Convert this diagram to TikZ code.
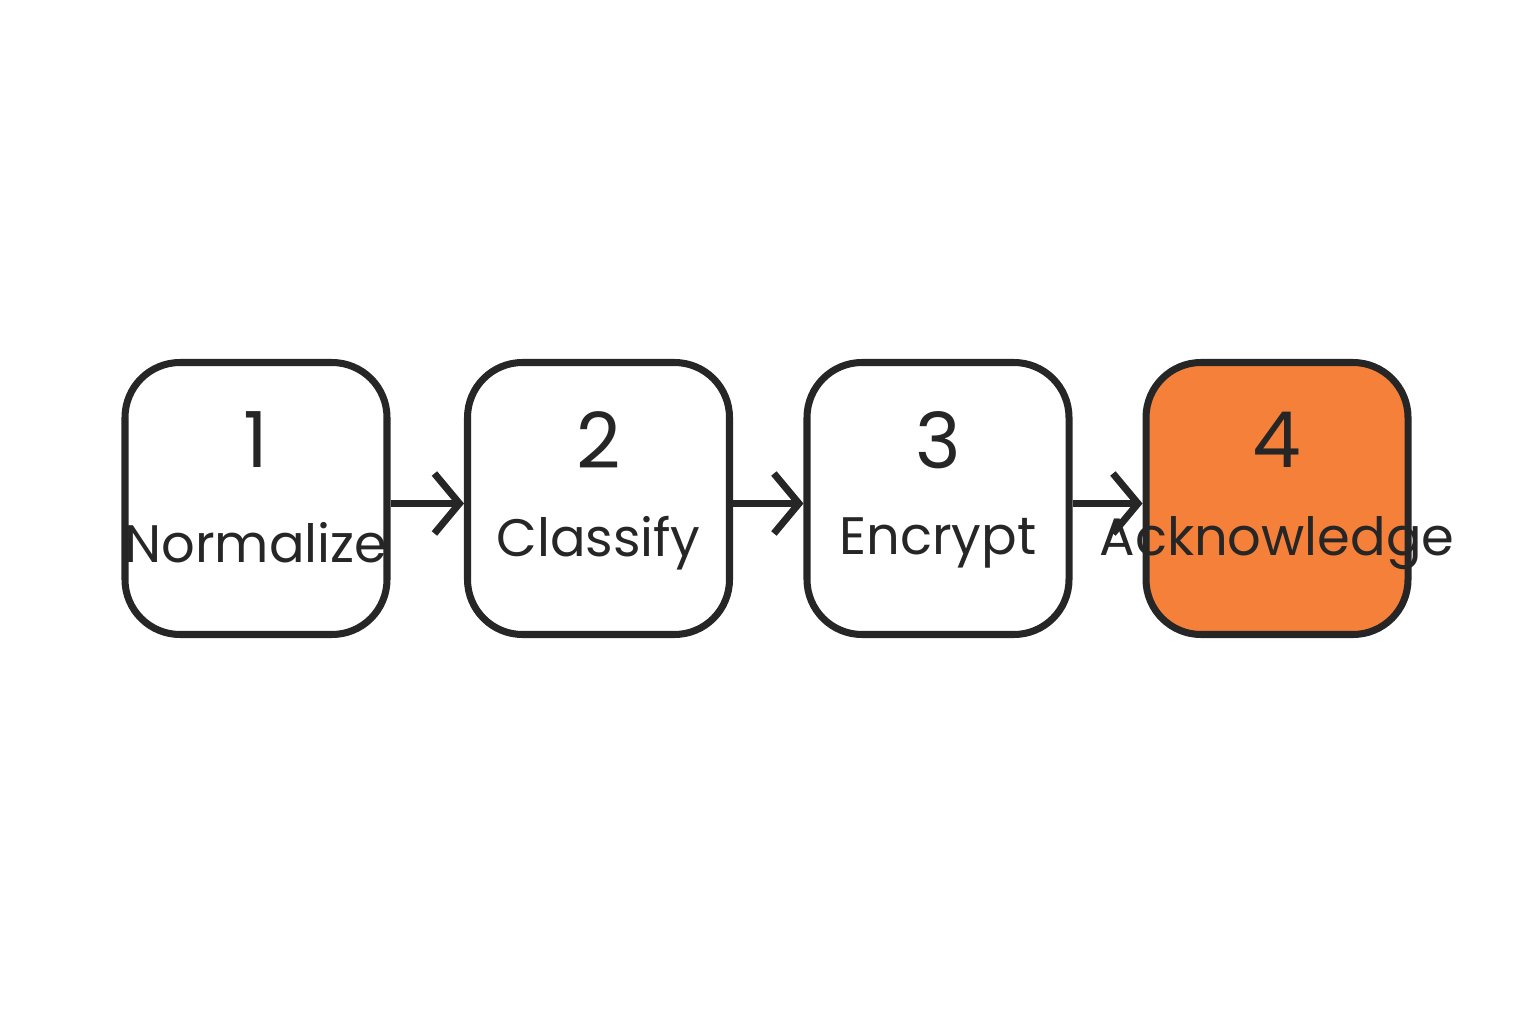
\documentclass[tikz,border=0pt]{standalone}
\usepackage{fontspec}
\setmainfont{Poppins}
\usetikzlibrary{arrows.meta}
\definecolor{ink}{HTML}{262626}
\definecolor{accent}{HTML}{F5803A}
\tikzset{
  stepbox/.style={draw=ink,line width=2pt,rounded corners=0.55cm,minimum width=2.62cm,minimum height=2.72cm,fill=white},
  num/.style={text=ink,font=\fontsize{22}{24}\selectfont},
  lbl/.style={text=ink,font=\fontsize{15}{17}\selectfont},
  conn/.style={draw=ink,line width=2pt,-{Straight Barb[length=0.25cm,width=0.6cm,line width=2pt]}}
}
\begin{document}
\begin{tikzpicture}
\useasboundingbox (0,0) rectangle (15.36,10.24);
\node[stepbox] (b1) at (2.56,5.255) {};
\node[stepbox] (b2) at (5.985,5.255) {};
\node[stepbox] (b3) at (9.38,5.255) {};
\node[stepbox,fill=accent] (b4) at (12.77,5.255) {};
\node[num] (n1) at (2.56,5.84) {1};
\node[num] (n2) at (5.985,5.84) {2};
\node[num] (n3) at (9.38,5.84) {3};
\node[num] (n4) at (12.77,5.84) {4};
\node[lbl] (t1) at (2.56,4.81) {Normalize};
\node[lbl] (t2) at (5.985,4.81) {Classify};
\node[lbl] (t3) at (9.38,4.81) {Encrypt};
\node[lbl] (t4) at (12.77,4.81) {Acknowledge};
\draw[conn] ([yshift=-0.05cm]b1.east) -- ([yshift=-0.05cm]b2.west);
\draw[conn] ([yshift=-0.05cm]b2.east) -- ([yshift=-0.05cm]b3.west);
\draw[conn] ([yshift=-0.05cm]b3.east) -- ([yshift=-0.05cm]b4.west);
\end{tikzpicture}
\end{document}
